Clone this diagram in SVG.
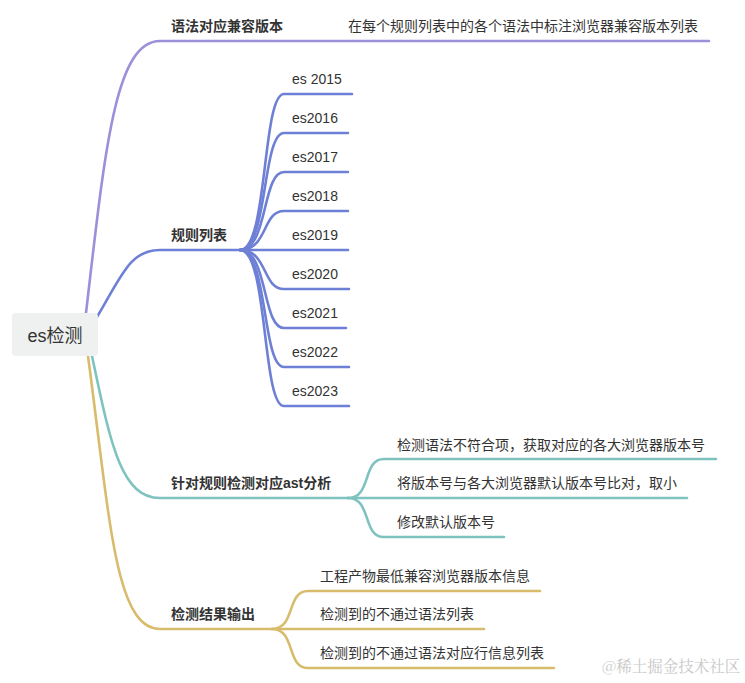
<svg xmlns="http://www.w3.org/2000/svg" width="745" height="683" viewBox="0 0 745 683">
<style>
.t{font-family:"Liberation Sans","Noto Sans CJK SC",sans-serif;font-size:14px;fill:#333}
.b{font-weight:600}
.c{fill:none;stroke-width:2.6;stroke-linecap:round}
.p{stroke:#9d8fd9}
.u{stroke:#6e80d6}
.g{stroke:#7fc3c0}
.y{stroke:#d8bc6c}
</style>
<rect width="745" height="683" fill="#fff"/>
<g id="connectors">
<path class="c p" d="M86,313 C105,150 115,41 160,41 L709,41"/>
<path class="c u" d="M97,317 C122,275 130,250 160,250 L240,250"/>
<path class="c g" d="M92,356 C110,440 120,498 160,498 L348,498"/>
<path class="c y" d="M88,356 C110,520 115,629 160,629 L272,629"/>
<g>
<path class="c u" d="M240,250 C268,250 262,94 284,94 L352,94"/>
<path class="c u" d="M240,250 C268,250 262,133 284,133 L348,133"/>
<path class="c u" d="M240,250 C268,250 262,172 284,172 L348,172"/>
<path class="c u" d="M240,250 C268,250 262,211 284,211 L348,211"/>
<path class="c u" d="M240,250 L348,250"/>
<path class="c u" d="M240,250 C268,250 262,289 284,289 L349,289"/>
<path class="c u" d="M240,250 C268,250 262,328 284,328 L346,328"/>
<path class="c u" d="M240,250 C268,250 262,367 284,367 L349,367"/>
<path class="c u" d="M240,250 C268,250 262,406 284,406 L349,406"/>
</g>
<g>
<path class="c g" d="M348,498 C372,498 362,459 384,459 L716,459"/>
<path class="c g" d="M348,498 L687,498"/>
<path class="c g" d="M348,498 C372,498 362,537 384,537 L504,537"/>
</g>
<g>
<path class="c y" d="M272,629 C296,629 286,591 308,591 L540,591"/>
<path class="c y" d="M272,629 L484,629"/>
<path class="c y" d="M272,629 C296,629 286,668 308,668 L554,668"/>
</g>
</g>
<g id="root">
<rect x="12" y="313" width="86" height="43" rx="4" fill="#eff0f0"/>
<text class="t" x="55" y="341.5" text-anchor="middle" style="font-size:18px">es检测</text>
</g>
<g id="n-syntax">
<text class="t b" x="171" y="31">语法对应兼容版本</text>
</g>
<g id="n-syntax-1">
<text class="t" x="348" y="31">在每个规则列表中的各个语法中标注浏览器兼容版本列表</text>
</g>
<g id="n-rules">
<text class="t b" x="171" y="240">规则列表</text>
</g>
<g id="n-es2015"><text class="t" x="292" y="84">es 2015</text></g>
<g id="n-es2016"><text class="t" x="292" y="123">es2016</text></g>
<g id="n-es2017"><text class="t" x="292" y="162">es2017</text></g>
<g id="n-es2018"><text class="t" x="292" y="201">es2018</text></g>
<g id="n-es2019"><text class="t" x="292" y="240">es2019</text></g>
<g id="n-es2020"><text class="t" x="292" y="279">es2020</text></g>
<g id="n-es2021"><text class="t" x="292" y="318">es2021</text></g>
<g id="n-es2022"><text class="t" x="292" y="357">es2022</text></g>
<g id="n-es2023"><text class="t" x="292" y="396">es2023</text></g>
<g id="n-ast">
<text class="t b" x="171" y="488">针对规则检测对应ast分析</text>
</g>
<g id="n-ast-1"><text class="t" x="397" y="450">检测语法不符合项，获取对应的各大浏览器版本号</text></g>
<g id="n-ast-2"><text class="t" x="397" y="488">将版本号与各大浏览器默认版本号比对，取小</text></g>
<g id="n-ast-3"><text class="t" x="397" y="527">修改默认版本号</text></g>
<g id="n-out">
<text class="t b" x="171" y="619">检测结果输出</text>
</g>
<g id="n-out-1"><text class="t" x="320" y="581">工程产物最低兼容浏览器版本信息</text></g>
<g id="n-out-2"><text class="t" x="320" y="619">检测到的不通过语法列表</text></g>
<g id="n-out-3"><text class="t" x="320" y="658">检测到的不通过语法对应行信息列表</text></g>
<text x="602" y="672" style="font-family:'Noto Serif CJK SC','Noto Sans CJK SC',serif;font-size:15.5px;fill:#c8c8c8">@稀土掘金技术社区</text>
</svg>
